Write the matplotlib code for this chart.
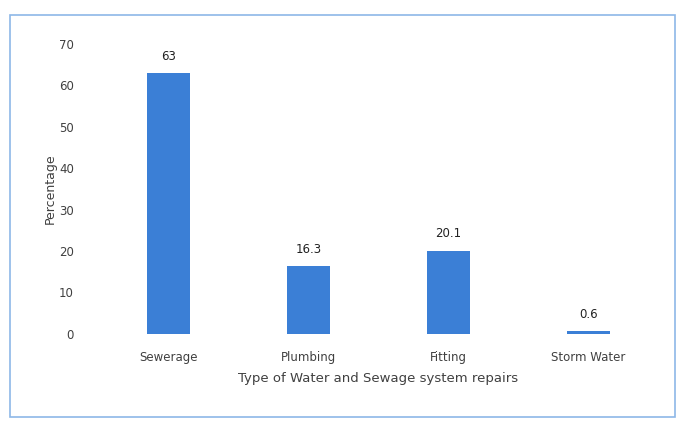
import matplotlib.pyplot as plt
from matplotlib.patches import Rectangle

categories = ['Sewerage', 'Plumbing', 'Fitting', 'Storm Water']
values = [63, 16.3, 20.1, 0.6]
yticks = [0, 10, 20, 30, 40, 50, 60, 70]

fig = plt.figure(figsize=(6.87, 4.28), dpi=100)
ax = fig.add_axes([0.144, 0.22, 0.814, 0.677])

bar_color = '#3b7fd6'
text_color = '#404040'

x = range(len(categories))
bars = ax.bar(x, values, width=0.31, color=bar_color)
for b, v in zip(bars, values):
    ax.text(b.get_x() + b.get_width() / 2, v + 2.5, '%g' % v,
            ha='center', va='bottom', fontsize=8.5, color='#222222')

ax.set_xlim(-0.5, 3.5)
ax.set_ylim(0, 70)
ax.set_yticks(yticks)
ax.set_xticks(list(x))
ax.set_xticklabels(categories)
ax.tick_params(axis='both', length=0, labelsize=8.5, colors=text_color)
ax.tick_params(axis='x', pad=12)
ax.tick_params(axis='y', pad=18)
for s in ax.spines.values():
    s.set_visible(False)

ax.set_ylabel('Percentage', fontsize=9, color=text_color, labelpad=2)
ax.set_xlabel('Type of Water and Sewage system repairs', fontsize=9.5,
              color=text_color, labelpad=6)

# light blue frame around the chart
fig.patches.append(Rectangle((0.015, 0.025), 0.968, 0.94, transform=fig.transFigure,
                             fill=False, edgecolor='#8db8e8', linewidth=1.2))

fig.savefig('out.png', dpi=100)
